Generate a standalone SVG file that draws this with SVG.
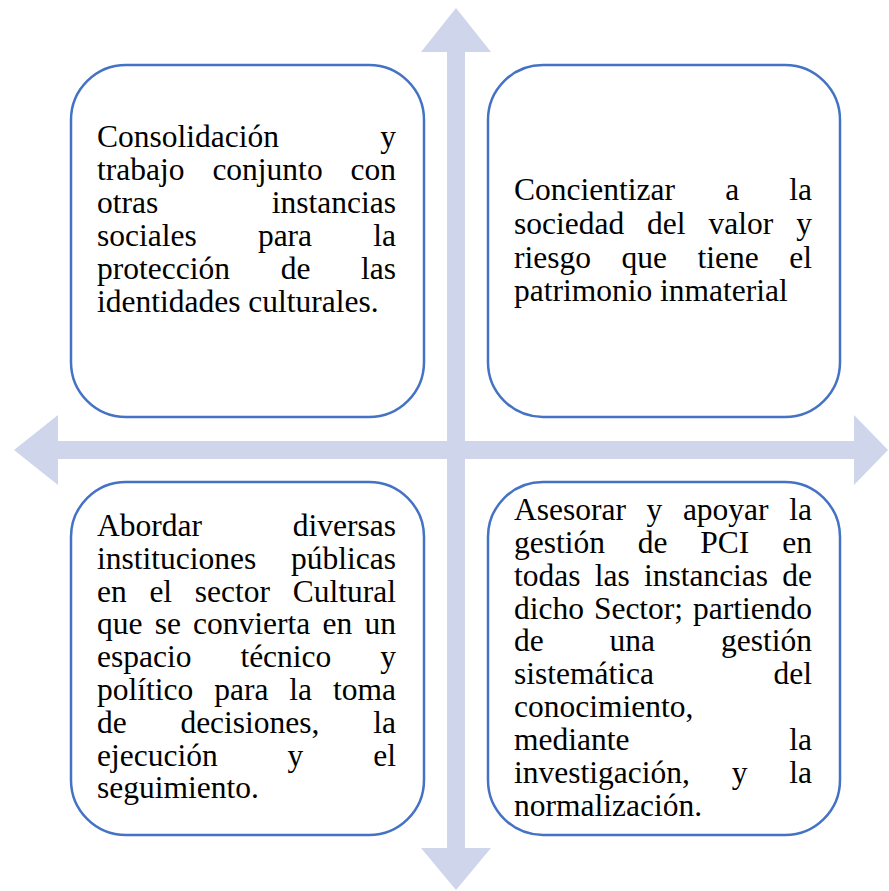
<svg xmlns="http://www.w3.org/2000/svg" width="889" height="891" viewBox="0 0 889 891">
<style>
.box{fill:#ffffff;stroke:#4472C4;stroke-width:2.5}
.arrow{fill:#CFD5EA;stroke:none}
.t text{font-family:'Liberation Serif','Times New Roman',serif;font-size:31.5px;fill:#000000}
.e{text-anchor:end}
</style>
<rect width="889" height="891" fill="#ffffff"/>
<g id="connectors">
<polygon class="arrow" points="456,8 491,52 465,52 465,441 854,441 854,415 888,450 854,485 854,459 465,459 465,848 491,848 456,890 421,848 447,848 447,459 58,459 58,485 14,450 58,415 58,441 447,441 447,52 421,52"/>
</g>
<g id="node-tl" class="t">
<rect class="box" x="71" y="65" width="353" height="352" rx="55" ry="55"/>
<text x="97" y="147">Consolidación</text><text class="e" x="396" y="147">y</text>
<text x="97" y="180">trabajo</text><text x="212.4" y="180">conjunto</text><text class="e" x="396" y="180">con</text>
<text x="97" y="213">otras</text><text class="e" x="396" y="213">instancias</text>
<text x="97" y="246">sociales</text><text x="257.9" y="246">para</text><text class="e" x="396" y="246">la</text>
<text x="97" y="279">protección</text><text x="280.7" y="279">de</text><text class="e" x="396" y="279">las</text>
<text x="97" y="312">identidades culturales.</text>
</g>
<g id="node-tr" class="t">
<rect class="box" x="488" y="65" width="352" height="352" rx="55" ry="55"/>
<text x="514" y="200">Concientizar</text><text x="725.2" y="200">a</text><text class="e" x="812" y="200">la</text>
<text x="514" y="234">sociedad</text><text x="647.1" y="234">del</text><text x="708.5" y="234">valor</text><text class="e" x="812" y="234">y</text>
<text x="514" y="268">riesgo</text><text x="621.5" y="268">que</text><text x="697.5" y="268">tiene</text><text class="e" x="812" y="268">el</text>
<text x="514" y="301">patrimonio inmaterial</text>
</g>
<g id="node-bl" class="t">
<rect class="box" x="71" y="482" width="353" height="353" rx="55" ry="55"/>
<text x="97" y="536">Abordar</text><text class="e" x="396" y="536">diversas</text>
<text x="97" y="569">instituciones</text><text class="e" x="396" y="569">públicas</text>
<text x="97" y="602">en</text><text x="149.4" y="602">el</text><text x="194.8" y="602">sector</text><text class="e" x="396" y="602">Cultural</text>
<text x="97" y="634">que</text><text x="154.7" y="634">se</text><text x="193.1" y="634">convierta</text><text x="322.5" y="634">en</text><text class="e" x="396" y="634">un</text>
<text x="97" y="667">espacio</text><text x="240.4" y="667">técnico</text><text class="e" x="396" y="667">y</text>
<text x="97" y="700">político</text><text x="214.2" y="700">para</text><text x="289.3" y="700">la</text><text class="e" x="396" y="700">toma</text>
<text x="97" y="733">de</text><text x="180.4" y="733">decisiones,</text><text class="e" x="396" y="733">la</text>
<text x="97" y="766">ejecución</text><text x="287.6" y="766">y</text><text class="e" x="396" y="766">el</text>
<text x="97" y="798">seguimiento.</text>
</g>
<g id="node-br" class="t">
<rect class="box" x="488" y="482" width="352" height="353" rx="55" ry="55"/>
<text x="514" y="520">Asesorar</text><text x="646.6" y="520">y</text><text x="682.9" y="520">apoyar</text><text class="e" x="812" y="520">la</text>
<text x="514" y="553">gestión</text><text x="637.8" y="553">de</text><text x="700.3" y="553">PCI</text><text class="e" x="812" y="553">en</text>
<text x="514" y="586">todas</text><text x="594.7" y="586">las</text><text x="643.9" y="586">instancias</text><text class="e" x="812" y="586">de</text>
<text x="514" y="619">dicho</text><text x="593.9" y="619">Sector;</text><text class="e" x="812" y="619">partiendo</text>
<text x="514" y="651">de</text><text x="609.6" y="651">una</text><text class="e" x="812" y="651">gestión</text>
<text x="514" y="684">sistemática</text><text class="e" x="812" y="684">del</text>
<text x="514" y="717">conocimiento,</text>
<text x="514" y="750">mediante</text><text class="e" x="812" y="750">la</text>
<text x="514" y="783">investigación,</text><text x="731.7" y="783">y</text><text class="e" x="812" y="783">la</text>
<text x="514" y="816">normalización.</text>
</g>
</svg>
